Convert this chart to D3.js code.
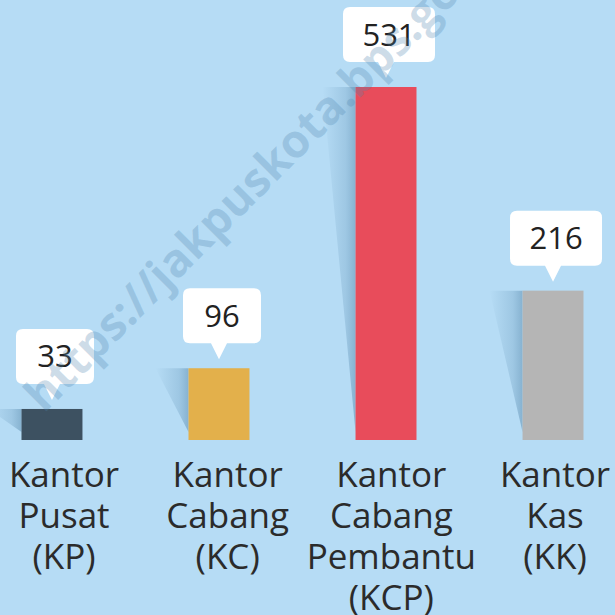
<!DOCTYPE html>
<html lang="id">
<head>
<meta charset="UTF-8">
<title>Jumlah Kantor Bank</title>
<script src="https://d3js.org/d3.v7.min.js"></script>
<style>
  body { margin: 0; padding: 0; }
  svg { display: block; background: #b6dcf5; }
  .label text { font-family: "Open Sans", sans-serif; font-size: 35px; fill: #2b2b2b; }
  .callout text { font-family: "Open Sans", sans-serif; font-size: 31px; fill: #222; }
</style>
</head>
<body>
<svg width="615" height="615"></svg>
<script>
// data
const categories = ["KP", "KC", "KCP", "KK"];
const values = [33, 96, 531, 216];
const labels = [
  ["Kantor", "Pusat", "(KP)"],
  ["Kantor", "Cabang", "(KC)"],
  ["Kantor", "Cabang", "Pembantu", "(KCP)"],
  ["Kantor", "Kas", "(KK)"]
];
const colors = ["#3d5161", "#e3b04b", "#e84c5b", "#b5b5b5"];

const svg = d3.select("svg"),
  width = +svg.attr("width"),
  height = +svg.attr("height");

const x = d3.scaleBand().domain(categories).range([21.5, 583.5]).paddingInner(0.635).paddingOuter(0);
const y = d3.scaleLinear().domain([-15, 531]).range([440, 87]);
const lx = d3.scalePoint().domain(categories).range([64, 555]);

// ombre des barres
const defs = svg.append("defs");
const grad = defs.append("linearGradient").attr("id", "shadow").attr("x1", 0).attr("x2", 1).attr("y1", 0).attr("y2", 0);
grad.append("stop").attr("offset", "0%").attr("stop-color", "#4a7fa6").attr("stop-opacity", 0);
grad.append("stop").attr("offset", "70%").attr("stop-color", "#4a7fa6").attr("stop-opacity", 0.22);
grad.append("stop").attr("offset", "100%").attr("stop-color", "#3f7399").attr("stop-opacity", 0.4);

const data = categories.map((c, i) => ({ c, v: values[i], color: colors[i], lines: labels[i] }));

svg.append("g").selectAll("path").data(data).join("path")
  .attr("fill", "url(#shadow)")
  .attr("d", d => {
    const x0 = x(d.c), top = y(d.v), bot = y(-15);
    return `M${x0 - 33},${top}L${x0},${top}L${x0},${bot - 8}Z`;
  });

// barres
svg.append("g").selectAll("rect").data(data).join("rect")
  .attr("x", d => x(d.c))
  .attr("y", d => y(d.v))
  .attr("width", x.bandwidth())
  .attr("height", d => y(-15) - y(d.v))
  .attr("fill", d => d.color);

// bulles de valeurs
const call = svg.append("g").attr("class", "callout").selectAll("g").data(data).join("g")
  .attr("transform", d => `translate(${x(d.c) + x.bandwidth() / 2},${y(d.v) - 9})`);
call.append("path")
  .attr("fill", "#fff")
  .attr("d", d => {
    const w = String(d.v).length > 2 ? 92 : 78, h = 55, r = 7, cx = 3;
    const l = cx - w / 2, rt = cx + w / 2, b = -16, t = b - h;
    return `M0,0L-8,${b}L${l + r},${b}Q${l},${b} ${l},${b - r}L${l},${t + r}Q${l},${t} ${l + r},${t}` +
      `L${rt - r},${t}Q${rt},${t} ${rt},${t + r}L${rt},${b - r}Q${rt},${b} ${rt - r},${b}L8,${b}Z`;
  });
call.append("text")
  .attr("x", 3)
  .attr("y", -16 - 55 / 2 + 11)
  .attr("text-anchor", "middle")
  .text(d => d.v);

// libellés
const lab = svg.append("g").attr("class", "label").selectAll("text").data(data).join("text")
  .attr("text-anchor", "middle");
lab.selectAll("tspan").data(d => d.lines.map(t => ({ t, c: d.c }))).join("tspan")
  .attr("x", d => lx(d.c))
  .attr("y", (d, i) => 487 + i * 41)
  .text(d => d.t);

// filigrane
svg.append("text")
  .attr("transform", "translate(44,414) rotate(-45)")
  .attr("font-family", "Open Sans, sans-serif")
  .attr("font-weight", "bold")
  .attr("font-size", 46)
  .attr("fill", "#4f86b0")
  .attr("fill-opacity", 0.28)
  .text("https://jakpuskota.bps.go.id");
</script>
</body>
</html>
